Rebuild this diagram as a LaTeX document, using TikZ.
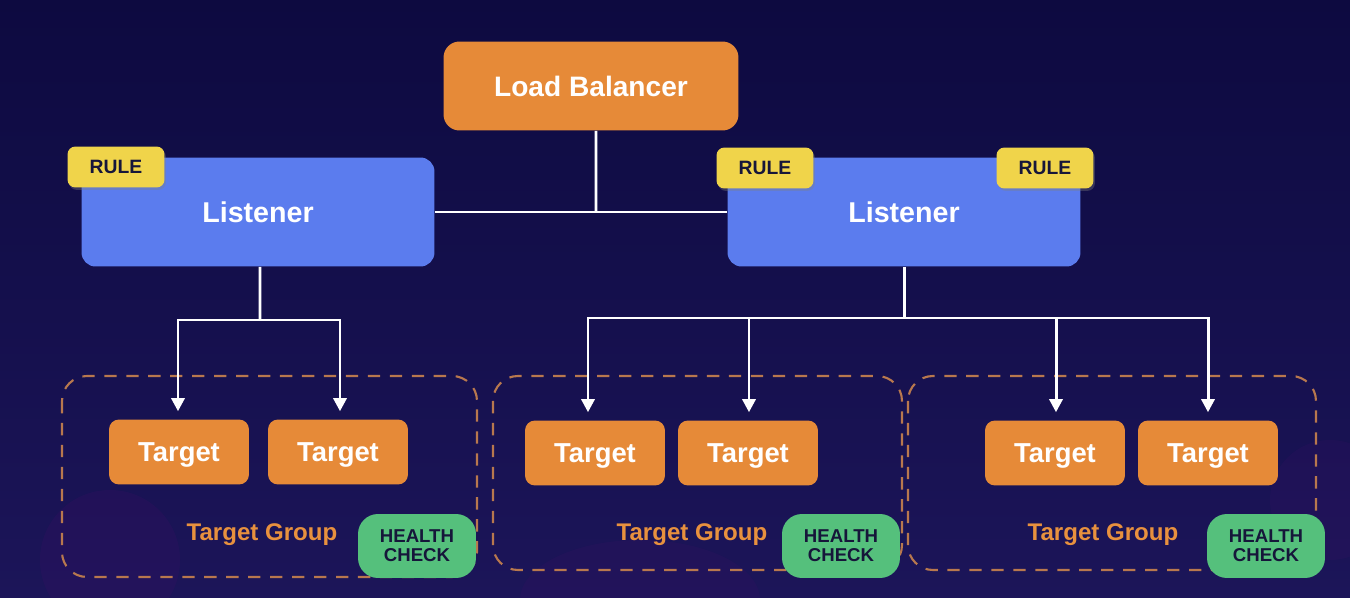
\documentclass[tikz,border=0pt]{standalone}
\usepackage{fontspec}
\setmainfont{Liberation Sans}
\usepackage{tikz}
\usetikzlibrary{arrows.meta,shadows}

\definecolor{bgtop}{HTML}{0D0A40}
\definecolor{bgbot}{HTML}{1C1559}
\definecolor{lborange}{HTML}{E68A38}
\definecolor{lsblue}{HTML}{5B7CEE}
\definecolor{ruleyel}{HTML}{F0D44A}
\definecolor{hcgreen}{HTML}{55C07C}
\definecolor{grpdash}{HTML}{B8784E}
\definecolor{grptext}{HTML}{E8913E}
\definecolor{darktext}{HTML}{16163A}

\tikzset{
  lbbox/.style={fill=lborange,rounded corners=0.32cm,minimum width=5.9cm,minimum height=1.78cm,
    text=white,text depth=0pt,font=\bfseries\fontsize{16}{18}\selectfont},
  lsbox/.style={fill=lsblue,rounded corners=0.28cm,minimum width=7.06cm,minimum height=2.18cm,
    text=white,text depth=0pt,font=\bfseries\fontsize{16.3}{18}\selectfont},
  rulebox/.style={fill=ruleyel,rounded corners=0.16cm,minimum width=1.94cm,minimum height=0.82cm,
    text=darktext,text depth=0pt,font=\bfseries\fontsize{11}{12}\selectfont,drop shadow={opacity=0.35,shadow xshift=0.03cm,shadow yshift=-0.05cm}},
  tgtbox/.style={fill=lborange,rounded corners=0.2cm,minimum width=2.8cm,minimum height=1.3cm,
    text=white,text depth=0pt,font=\bfseries\fontsize{15.6}{18}\selectfont},
  hcbox/.style={fill=hcgreen,rounded corners=0.4cm,minimum width=2.36cm,minimum height=1.28cm,
    text=darktext,align=center,font=\bfseries\fontsize{10.6}{10.9}\selectfont},
  grplabel/.style={text=grptext,text depth=0pt,font=\bfseries\fontsize{13.7}{16}\selectfont},
  grpframe/.style={draw=grpdash,line width=1.2pt,dash pattern=on 7pt off 5.5pt,rounded corners=0.5cm},
  wire/.style={draw=white,line width=1.7pt},
  wirearrow/.style={wire,-{Triangle[length=7.5pt,width=7.5pt]},shorten >=4.5pt}
}

\begin{document}
\begin{tikzpicture}[x=0.02cm,y=-0.02cm]
%%%%%%%%%%%%%%%%%%%%%%%%%%%%%%%%
%% background
%%%%%%%%%%%%%%%%%%%%%%%%%%%%%%%%
\shade[top color=bgtop,bottom color=bgbot] (0,0) rectangle (1350,598);
\useasboundingbox (0,0) rectangle (1350,598);
\fill[bgbot!70!violet,opacity=0.25] (110,560) circle (70);
\fill[bgbot!70!violet,opacity=0.2] (640,600) ellipse (120 and 60);
\fill[bgbot!70!violet,opacity=0.2] (1330,500) circle (60);
%
%%%%%%%%%%%%%%%%%%%%%%%%%%%%%%%%
%% target groups
%%%%%%%%%%%%%%%%%%%%%%%%%%%%%%%%
\draw[grpframe] (62,376) rectangle (477,577);
\draw[grpframe] (493,376) rectangle (902,570);
\draw[grpframe] (908,376) rectangle (1316,570);

\node[grplabel] (grp1) at (262,532) {Target Group};
\node[grplabel] (grp2) at (692,532) {Target Group};
\node[grplabel] (grp3) at (1103,532) {Target Group};

\node[hcbox] (hc1) at (417,546) {HEALTH\\CHECK};
\node[hcbox] (hc2) at (841,546) {HEALTH\\CHECK};
\node[hcbox] (hc3) at (1266,546) {HEALTH\\CHECK};

\node[tgtbox] (tgt1) at (179,452) {Target};
\node[tgtbox] (tgt2) at (338,452) {Target};
\node[tgtbox] (tgt3) at (595,453) {Target};
\node[tgtbox] (tgt4) at (748,453) {Target};
\node[tgtbox] (tgt5) at (1055,453) {Target};
\node[tgtbox] (tgt6) at (1208,453) {Target};
%
%%%%%%%%%%%%%%%%%%%%%%%%%%%%%%%%
%% balancer and listeners
%%%%%%%%%%%%%%%%%%%%%%%%%%%%%%%%
\node[lbbox] (lb) at (591,86) {Load Balancer};
\node[lsbox] (lsleft) at (258,212) {Listener};
\node[lsbox] (lsright) at (904,212) {Listener};

\node[rulebox] (rule1) at (116,167) {RULE};
\node[rulebox] (rule2) at (765,168) {RULE};
\node[rulebox] (rule3) at (1045,168) {RULE};
%
%%%%%%%%%%%%%%%%%%%%%%%%%%%%%%%%
%% wires
%%%%%%%%%%%%%%%%%%%%%%%%%%%%%%%%
\coordinate (hub) at (596,212);
\coordinate (splitl) at (260,320);
\coordinate (splitr) at (904,318);

\draw[wire] (lsleft.east) -- (lsright.west);
\draw[wire] ([xshift=0.1cm]lb.south) -- (hub);

\draw[wire] ([xshift=0.04cm]lsleft.south) -- (splitl);
\draw[wirearrow] (splitl) -| ([xshift=-0.02cm]tgt1.north);
\draw[wirearrow] (splitl) -| ([xshift=0.04cm]tgt2.north);

\draw[wire] (lsright.south) -- (splitr);
\draw[wirearrow] (splitr) -| ([xshift=-0.14cm]tgt3.north);
\draw[wirearrow] (splitr) -| ([xshift=0.02cm]tgt4.north);
\draw[wirearrow] (splitr) -| ([xshift=0.02cm]tgt5.north);
\draw[wirearrow] (splitr) -| (tgt6.north);
\end{tikzpicture}
\end{document}
